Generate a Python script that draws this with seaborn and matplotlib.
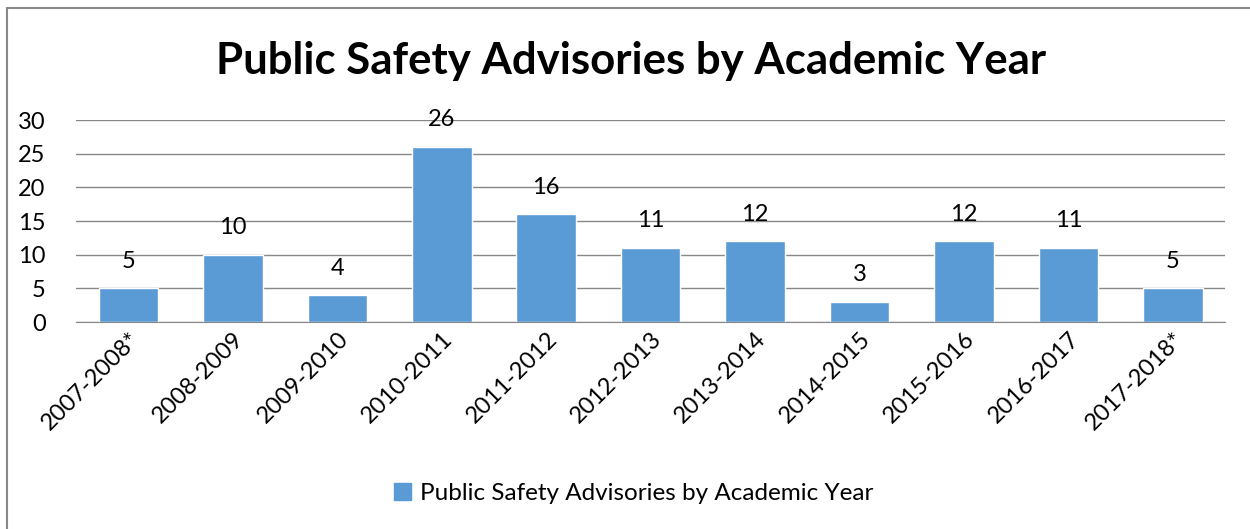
import pandas as pd
import seaborn as sns
import matplotlib.pyplot as plt
from matplotlib.patches import Rectangle

years = ["2007-2008*", "2008-2009", "2009-2010", "2010-2011", "2011-2012", "2012-2013",
         "2013-2014", "2014-2015", "2015-2016", "2016-2017", "2017-2018*"]
advisories = [5, 10, 4, 26, 16, 11, 12, 3, 12, 11, 5]
series_name = "Public Safety Advisories by Academic Year"

df = pd.DataFrame({"year": years, "count": advisories})

sns.set_style("white")
plt.rcParams["font.family"] = ["Lato", "DejaVu Sans"]
plt.rcParams["text.color"] = "black"
plt.rcParams["xtick.color"] = "black"
plt.rcParams["ytick.color"] = "black"

fig = plt.figure(figsize=(12.5, 5.29), dpi=100)
ax = fig.add_axes([0.061, 0.391, 0.919, 0.382])

sns.barplot(data=df, x="year", y="count", color="#5B9BD5", saturation=1, width=0.57, ax=ax)

ax.set_ylim(0, 30)
ax.set_yticks(range(0, 31, 5))
ax.set_xlim(-0.5, len(years) - 0.5)
ax.yaxis.grid(True, color="#878787", linewidth=1)
ax.set_axisbelow(True)
for s in ["top", "right", "left"]:
    ax.spines[s].set_visible(False)
ax.spines["bottom"].set_color("#878787")
ax.set_xlabel("")
ax.set_ylabel("")
ax.tick_params(axis="y", labelsize=17, length=0, pad=22)
ax.tick_params(axis="x", labelsize=17, length=0, pad=4)
plt.setp(ax.get_xticklabels(), rotation=45, ha="right", rotation_mode="anchor")

for c in ax.containers:
    ax.bar_label(c, labels=[str(v) for v in advisories], fontsize=17, padding=12, color="black")

fig.text(0.505, 0.885, series_name, ha="center", va="center", fontsize=31.5, fontweight="bold")

handle = Rectangle((0, 0), 1, 1, color="#5B9BD5")
fig.legend([handle], [series_name], loc="center", bbox_to_anchor=(0.507, 0.068),
           frameon=False, fontsize=17.5, handlelength=0.7, handleheight=0.7, handletextpad=0.4)

# outer chart border
fig.add_artist(plt.Line2D([0.0056, 0.0056], [0, 0.985], color="#888888", linewidth=1.5,
                          transform=fig.transFigure))
fig.add_artist(plt.Line2D([0.0056, 1], [0.985, 0.985], color="#888888", linewidth=1.5,
                          transform=fig.transFigure))

fig.savefig("out.png", dpi=100)
